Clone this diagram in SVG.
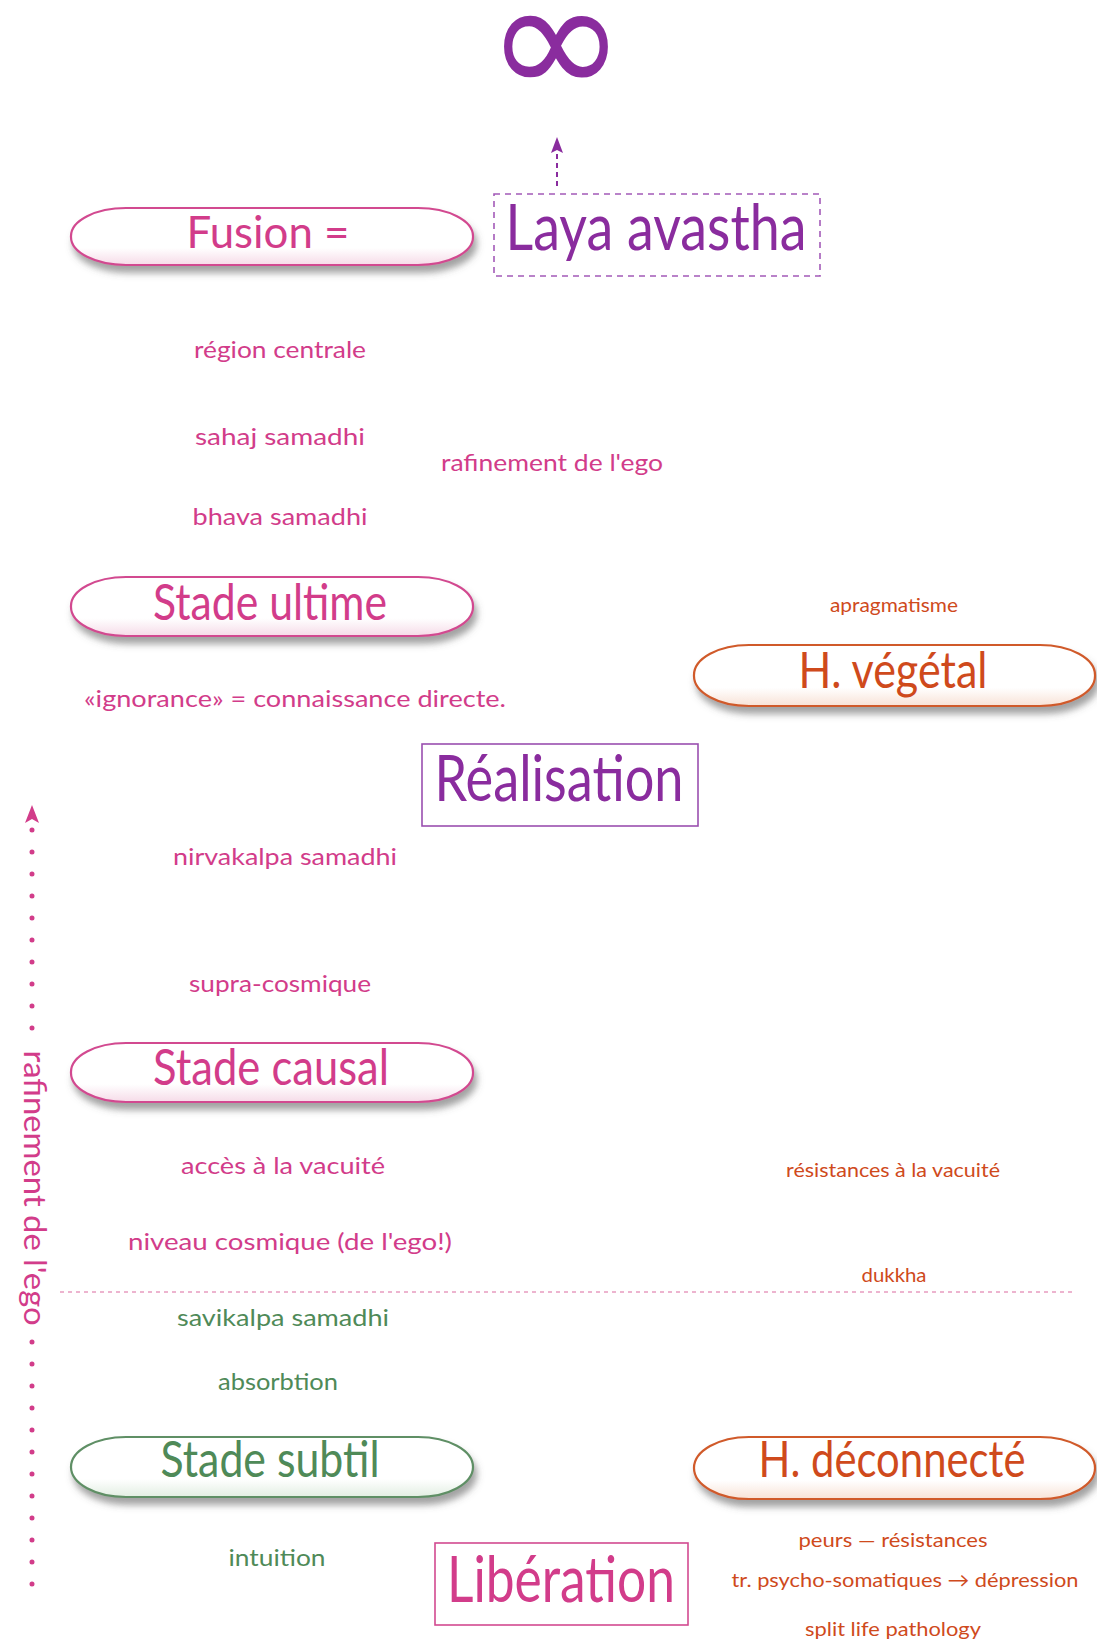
<svg xmlns="http://www.w3.org/2000/svg" width="1097" height="1648" viewBox="0 0 1097 1648">
<style>
text{font-family:Lato,"Open Sans","Liberation Sans",sans-serif;text-anchor:middle}
.pk{fill:#d23c8a}.pu{fill:#8a2c9e}.or{fill:#cf4a1c}.gr{fill:#4f8a58}
.s{font-size:24px}.xs{font-size:20px}.t{font-size:50px}.b{font-size:64px}
.pill{stroke-width:2.2;filter:url(#sh)}
.ppk{stroke:#d24a90;fill:url(#gpk)}.por{stroke:#d05a2a;fill:url(#gor)}.pgr{stroke:#5f8f65;fill:url(#ggr)}
</style>
<defs>
<filter id="sh" x="-10%" y="-30%" width="125%" height="180%"><feDropShadow dx="3" dy="7" stdDeviation="3.5" flood-color="#555" flood-opacity="0.55"/></filter>
<linearGradient id="gpk" x1="0" y1="0" x2="0" y2="1"><stop offset="0" stop-color="#fff"/><stop offset="0.7" stop-color="#fff"/><stop offset="1" stop-color="#f6dbe8"/></linearGradient>
<linearGradient id="gor" x1="0" y1="0" x2="0" y2="1"><stop offset="0" stop-color="#fff"/><stop offset="0.7" stop-color="#fff"/><stop offset="1" stop-color="#f8e2d6"/></linearGradient>
<linearGradient id="ggr" x1="0" y1="0" x2="0" y2="1"><stop offset="0" stop-color="#fff"/><stop offset="0.7" stop-color="#fff"/><stop offset="1" stop-color="#e2eee2"/></linearGradient>
</defs>
<rect width="1097" height="1648" fill="#fff"/>

<g id="connectors">
<line x1="557" y1="186" x2="557" y2="150" stroke="#8a2c9e" stroke-width="2" stroke-dasharray="5 4"/>
<polygon points="557,137 551,153 557,150 563,153" fill="#8a2c9e"/>
<line x1="60" y1="1292" x2="1075" y2="1292" stroke="#e89cc0" stroke-width="1.3" stroke-dasharray="4 4"/>
<line x1="32" y1="830" x2="32" y2="1042" stroke="#d23c8a" stroke-width="5" stroke-linecap="round" stroke-dasharray="0 22"/>
<line x1="32" y1="1342" x2="32" y2="1586" stroke="#d23c8a" stroke-width="5" stroke-linecap="round" stroke-dasharray="0 22"/>
<polygon points="32,805 25,823 32,819 39,823" fill="#d23c8a"/>
<text class="pk" font-size="30" transform="translate(32 1188) rotate(90)" y="8" textLength="275" lengthAdjust="spacingAndGlyphs">rafinement de l'ego</text>
</g>

<g id="infinity"><text class="pu" transform="translate(556 96) scale(1.12 1.1)" font-size="150" style="font-family:'DejaVu Sans',sans-serif">∞</text></g>

<g id="fusion"><rect class="pill ppk" x="71" y="208" width="402" height="57" rx="55" ry="28"/><text class="pk" x="268" y="248" font-size="44" textLength="163" lengthAdjust="spacingAndGlyphs">Fusion =</text></g>
<g id="laya"><rect x="494" y="194" width="326" height="82" fill="none" stroke="#a35ab8" stroke-width="1.6" stroke-dasharray="6 5"/><text class="pu b" x="656" y="250" textLength="301" lengthAdjust="spacingAndGlyphs">Laya avastha</text></g>

<g id="t-region"><text class="pk s" x="280" y="358" textLength="172" lengthAdjust="spacingAndGlyphs">région centrale</text></g>
<g id="t-sahaj"><text class="pk s" x="280" y="445" textLength="170" lengthAdjust="spacingAndGlyphs">sahaj samadhi</text></g>
<g id="t-raf"><text class="pk s" x="552" y="471" textLength="222" lengthAdjust="spacingAndGlyphs">rafinement de l'ego</text></g>
<g id="t-bhava"><text class="pk s" x="280" y="525" textLength="175" lengthAdjust="spacingAndGlyphs">bhava samadhi</text></g>

<g id="ultime"><rect class="pill ppk" x="71" y="577" width="402" height="59" rx="55" ry="29"/><text class="pk t" x="270" y="620" textLength="234" lengthAdjust="spacingAndGlyphs">Stade ultime</text></g>
<g id="t-aprag"><text class="or xs" x="894" y="612" textLength="128" lengthAdjust="spacingAndGlyphs">apragmatisme</text></g>
<g id="vegetal"><rect class="pill por" x="694" y="645" width="401" height="61" rx="55" ry="30"/><text class="or t" x="893" y="688" textLength="189" lengthAdjust="spacingAndGlyphs">H. végétal</text></g>
<g id="t-ignor"><text class="pk s" x="295" y="707" textLength="422" lengthAdjust="spacingAndGlyphs">«ignorance» = connaissance directe.</text></g>

<g id="realisation"><rect x="422" y="744" width="276" height="82" fill="#fff" stroke="#9a4fb0" stroke-width="1.6"/><text class="pu b" x="559" y="801" textLength="249" lengthAdjust="spacingAndGlyphs">Réalisation</text></g>
<g id="t-nirva"><text class="pk s" x="285" y="865" textLength="224" lengthAdjust="spacingAndGlyphs">nirvakalpa samadhi</text></g>
<g id="t-supra"><text class="pk s" x="280" y="992" textLength="182" lengthAdjust="spacingAndGlyphs">supra-cosmique</text></g>

<g id="causal"><rect class="pill ppk" x="71" y="1043" width="402" height="59" rx="55" ry="29"/><text class="pk t" x="271" y="1085" textLength="236" lengthAdjust="spacingAndGlyphs">Stade causal</text></g>
<g id="t-acces"><text class="pk s" x="283" y="1174" textLength="204" lengthAdjust="spacingAndGlyphs">accès à la vacuité</text></g>
<g id="t-resist"><text class="or xs" x="893" y="1177" textLength="214" lengthAdjust="spacingAndGlyphs">résistances à la vacuité</text></g>
<g id="t-niveau"><text class="pk s" x="290" y="1250" textLength="324" lengthAdjust="spacingAndGlyphs">niveau cosmique (de l'ego!)</text></g>
<g id="t-dukkha"><text class="or xs" x="894" y="1282" textLength="65" lengthAdjust="spacingAndGlyphs">dukkha</text></g>
<g id="t-savik"><text class="gr s" x="283" y="1326" textLength="212" lengthAdjust="spacingAndGlyphs">savikalpa samadhi</text></g>
<g id="t-absorb"><text class="gr s" x="278" y="1390" textLength="120" lengthAdjust="spacingAndGlyphs">absorbtion</text></g>

<g id="subtil"><rect class="pill pgr" x="71" y="1437" width="402" height="60" rx="55" ry="30"/><text class="gr t" x="270" y="1477" textLength="219" lengthAdjust="spacingAndGlyphs">Stade subtil</text></g>
<g id="deconnecte"><rect class="pill por" x="694" y="1437" width="401" height="62" rx="55" ry="31"/><text class="or t" x="892" y="1477" textLength="267" lengthAdjust="spacingAndGlyphs">H. déconnecté</text></g>
<g id="t-intuition"><text class="gr s" x="277" y="1566" textLength="97" lengthAdjust="spacingAndGlyphs">intuition</text></g>
<g id="liberation"><rect x="435" y="1543" width="253" height="82" fill="#fff" stroke="#d24a90" stroke-width="1.6"/><text class="pk b" x="561" y="1602" textLength="228" lengthAdjust="spacingAndGlyphs">Libération</text></g>
<g id="t-peurs"><text class="or xs" x="893" y="1547" textLength="189" lengthAdjust="spacingAndGlyphs">peurs — résistances</text></g>
<g id="t-tr"><text class="or xs" x="905" y="1587" textLength="347" lengthAdjust="spacingAndGlyphs">tr. psycho-somatiques → dépression</text></g>
<g id="t-split"><text class="or xs" x="893" y="1636" textLength="176" lengthAdjust="spacingAndGlyphs">split life pathology</text></g>
</svg>
